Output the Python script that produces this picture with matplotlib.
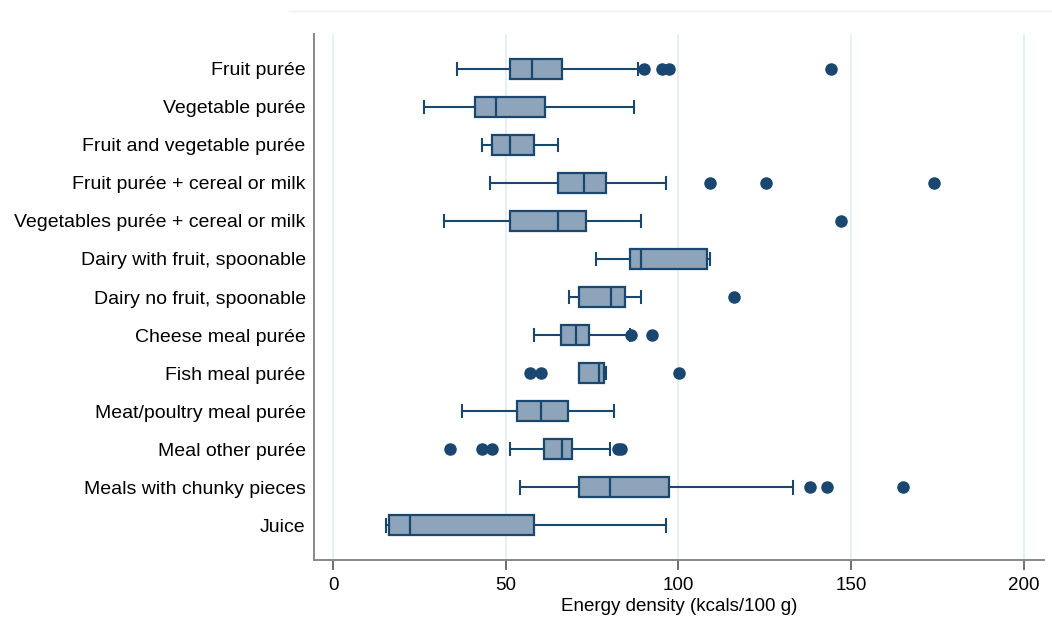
import matplotlib
matplotlib.use("Agg")
import matplotlib.pyplot as plt
from matplotlib.lines import Line2D

categories = ["Fruit purée", "Vegetable purée", "Fruit and vegetable purée",
              "Fruit purée + cereal or milk", "Vegetables purée + cereal or milk",
              "Dairy with fruit, spoonable", "Dairy no fruit, spoonable",
              "Cheese meal purée", "Fish meal purée", "Meat/poultry meal purée",
              "Meal other purée", "Meals with chunky pieces", "Juice"]
whisker_low = [36.0, 26.3, 43.2, 45.3, 32.2, 76.1, 68.2, 58.3, 71.1, 37.3, 51.3, 54.2, 15.3]
q1 = [51.1, 41.1, 46.1, 65.2, 51.1, 86.1, 71.1, 66.1, 71.1, 53.3, 61.2, 71.1, 16.1]
median = [57.7, 47.1, 51.2, 72.6, 65.2, 89.1, 80.6, 70.3, 77.1, 60.2, 66.3, 80.2, 22.2]
q3 = [66.3, 61.3, 58.3, 79.0, 73.1, 108.3, 84.6, 74.1, 78.3, 68.1, 69.2, 97.3, 58.3]
whisker_high = [88.2, 87.2, 65.2, 96.3, 89.2, 109.1, 89.2, 86.0, 79.0, 81.2, 80.2, 133.2, 96.3]
outliers = [[90.1, 95.1, 97.3, 144.1], [], [], [109.1, 125.2, 174.1], [147.1], [],
            [116.1], [86.2, 92.2], [57.1, 60.1, 100.2], [],
            [34.0, 43.1, 46.1, 82.5, 83.3], [138.1, 143.1, 165.1], []]
xticks = [0, 50, 100, 150, 200]

navy = "#1a476f"
fill = "#8da4ba"
narrow = ["Liberation Sans Narrow", "DejaVu Sans Condensed", "Liberation Sans"]

fig = plt.figure(figsize=(10.52, 6.39), dpi=100)
ax = fig.add_axes([0.2985, 0.1236, 0.6939, 0.8232])

stats = []
for i in range(len(categories)):
    stats.append({"label": categories[i], "whislo": whisker_low[i], "q1": q1[i],
                  "med": median[i], "q3": q3[i], "whishi": whisker_high[i],
                  "fliers": outliers[i]})

ax.bxp(stats, positions=range(len(categories)), vert=False, widths=0.52,
       capwidths=0.34, patch_artist=True,
       boxprops=dict(facecolor=fill, edgecolor=navy, linewidth=1.6),
       medianprops=dict(color=navy, linewidth=1.6),
       whiskerprops=dict(color=navy, linewidth=1.5),
       capprops=dict(color=navy, linewidth=1.5),
       flierprops=dict(marker="o", markerfacecolor=navy, markeredgecolor=navy,
                       markersize=8))

ax.set_ylim(len(categories) - 1 + 0.92, -0.92)
ax.set_xlim(-5.5, 205.8)
ax.set_xticks(xticks)
ax.set_xticklabels([str(t) for t in xticks], family=narrow, fontsize=13.5)
ax.set_yticks(range(len(categories)))
ax.set_yticklabels(categories, family="Liberation Sans", fontsize=14)
ax.tick_params(axis="y", length=0, pad=6)
ax.tick_params(axis="x", length=7, width=1.2, color="#555555", pad=5)
ax.xaxis.grid(True, color="#e6eff1", linewidth=1.4)
ax.set_axisbelow(True)
for s in ["top", "right"]:
    ax.spines[s].set_visible(False)
for s in ["left", "bottom"]:
    ax.spines[s].set_color("#888888")
    ax.spines[s].set_linewidth(1.4)

ax.set_xlabel("Energy density (kcals/100 g)", family=narrow, fontsize=13.5, labelpad=3)

fig.add_artist(Line2D([0.275, 1.0], [1 - 11 / 639, 1 - 11 / 639], transform=fig.transFigure,
                      color="#f0f0f0", linewidth=1))

fig.savefig("out.png", dpi=100)
